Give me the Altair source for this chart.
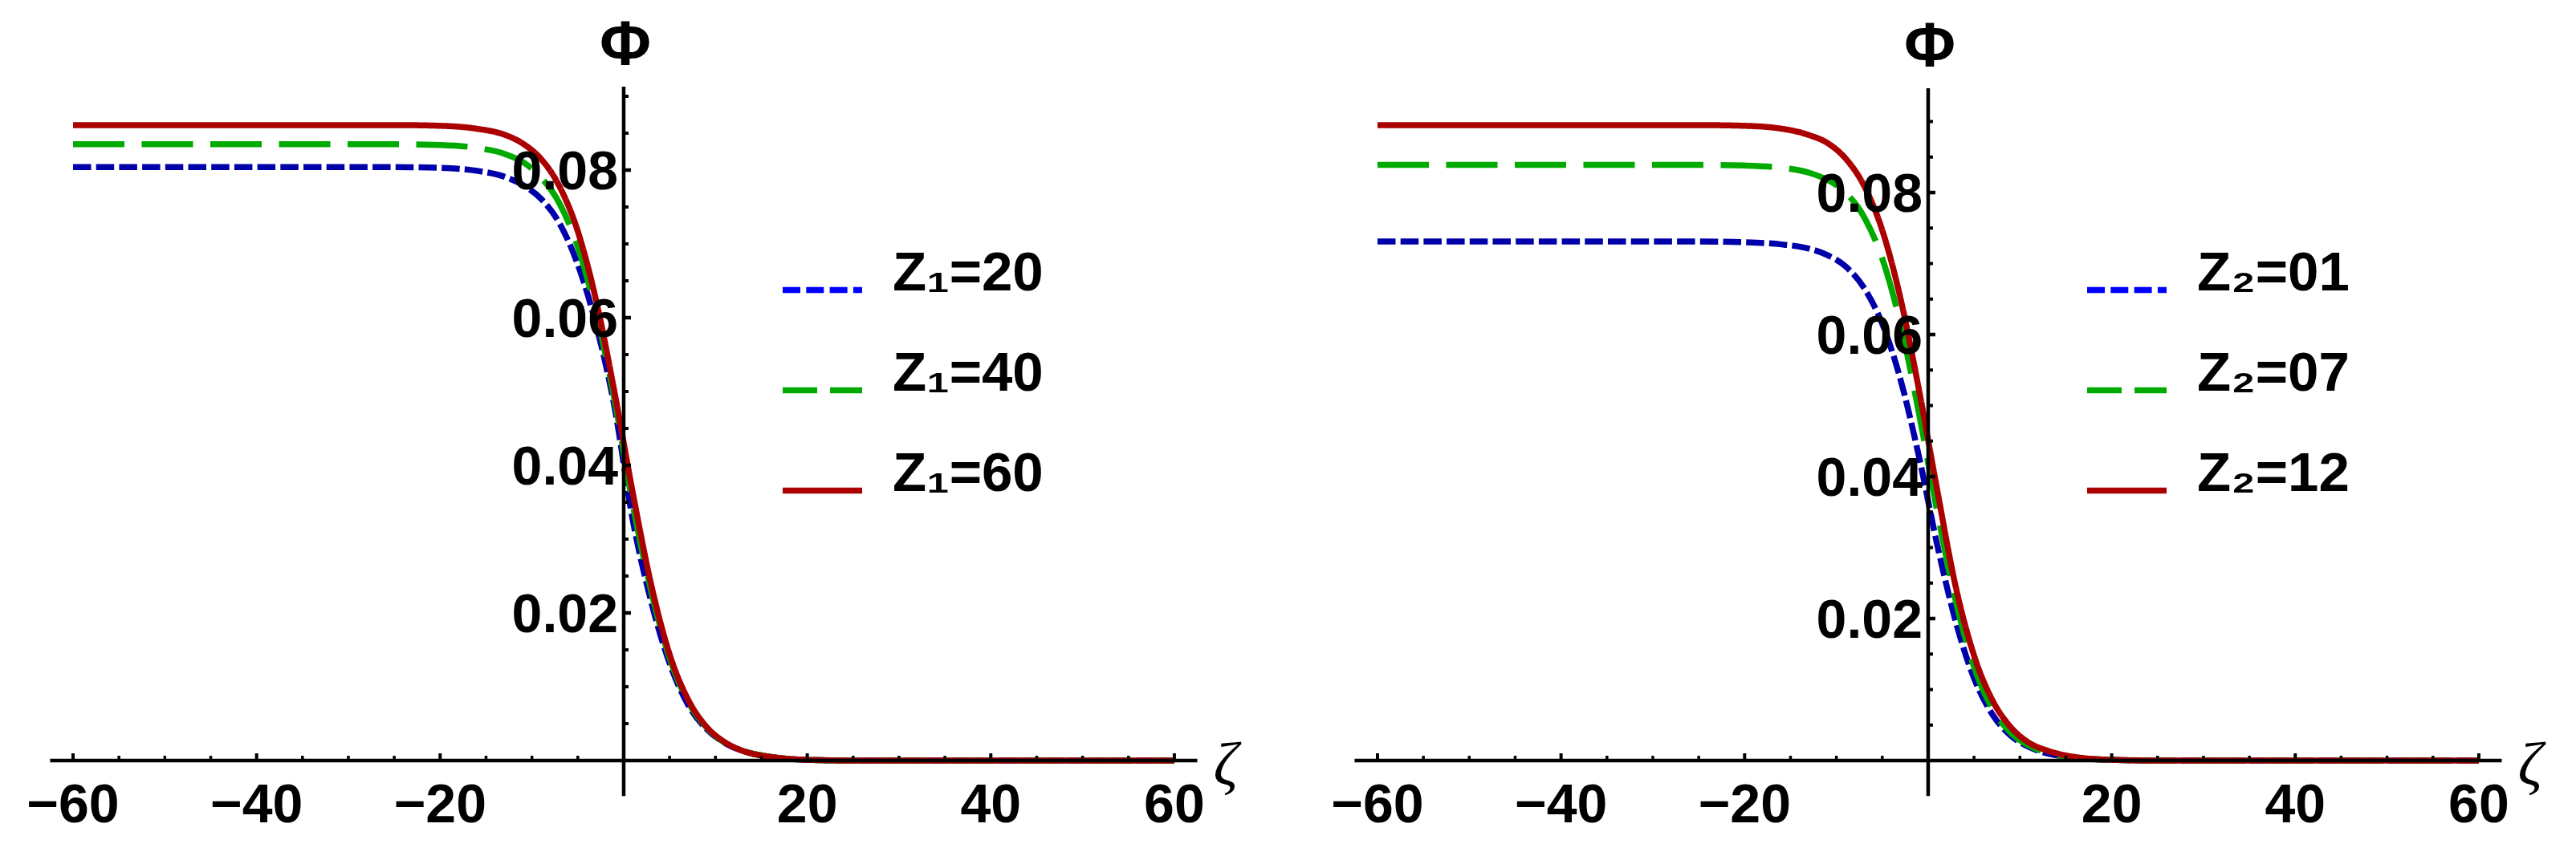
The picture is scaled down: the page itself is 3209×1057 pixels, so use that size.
import altair as alt
import pandas as pd

# ---------------- data ----------------
zeta = [-60, -40, -30, -25, -20, -16, -13, -11, -9, -7, -5, -3, -1,
        1, 3, 5, 7, 9, 11, 13, 16, 20, 25, 30, 40, 60]

left_labels = ["Z₁=20", "Z₁=40", "Z₁=60"]
left_z20 = [0.0804, 0.0804, 0.0804, 0.0804, 0.0803, 0.0799, 0.0791, 0.0780, 0.0761, 0.0728, 0.0672, 0.0590, 0.0479,
            0.0325, 0.0215, 0.0132, 0.0076, 0.0043, 0.0024, 0.0013, 0.0005, 0.0001, 0.0, 0.0, 0.0, 0.0]
left_z40 = [0.0835, 0.0835, 0.0835, 0.0835, 0.0834, 0.0830, 0.0822, 0.0811, 0.0790, 0.0755, 0.0696, 0.0606, 0.0489,
            0.0346, 0.0229, 0.0139, 0.0080, 0.0045, 0.0024, 0.0013, 0.0005, 0.0001, 0.0, 0.0, 0.0, 0.0]
left_z60 = [0.0861, 0.0861, 0.0861, 0.0861, 0.0860, 0.0856, 0.0848, 0.0836, 0.0815, 0.0778, 0.0717, 0.0623, 0.0499,
            0.0362, 0.0238, 0.0144, 0.0083, 0.0046, 0.0025, 0.0013, 0.0005, 0.0001, 0.0, 0.0, 0.0, 0.0]

right_labels = ["Z₂=01", "Z₂=07", "Z₂=12"]
right_z01 = [0.0731, 0.0731, 0.0731, 0.0731, 0.0730, 0.0727, 0.0721, 0.0712, 0.0696, 0.0666, 0.0615, 0.0536, 0.0428,
             0.0303, 0.0196, 0.0116, 0.0065, 0.0035, 0.0019, 0.0010, 0.0004, 0.0001, 0.0, 0.0, 0.0, 0.0]
right_z07 = [0.0839, 0.0839, 0.0839, 0.0839, 0.0838, 0.0835, 0.0828, 0.0818, 0.0800, 0.0766, 0.0707, 0.0614, 0.0489,
             0.0350, 0.0225, 0.0132, 0.0073, 0.0039, 0.0021, 0.0011, 0.0004, 0.0001, 0.0, 0.0, 0.0, 0.0]
right_z12 = [0.0895, 0.0895, 0.0895, 0.0895, 0.0894, 0.0890, 0.0881, 0.0870, 0.0848, 0.0810, 0.0747, 0.0650, 0.0522,
             0.0380, 0.0245, 0.0148, 0.0085, 0.0047, 0.0025, 0.0014, 0.0005, 0.0001, 0.0, 0.0, 0.0, 0.0]

x_major = [-60, -40, -20, 20, 40, 60]
x_major_text = ["−60", "−40", "−20", "20", "40", "60"]
x_minor = [-55, -50, -45, -35, -30, -25, -15, -10, -5, 5, 10, 15, 25, 30, 35, 45, 50, 55]
y_major = [0.02, 0.04, 0.06, 0.08]
y_major_text = ["0.02", "0.04", "0.06", "0.08"]
y_minor = [0.005, 0.01, 0.015, 0.025, 0.03, 0.035, 0.045, 0.05, 0.055, 0.065, 0.07, 0.075, 0.085, 0.09]

x_axis_extent = [-62.5, 62.5]
left_y_axis_extent = [-0.0048, 0.0913]
right_y_axis_extent = [-0.0050, 0.0947]

curve_colors = ["#0000AA", "#00AA00", "#AA0000"]
legend_colors = ["#0000FF", "#00AA00", "#AA0000"]
curve_dashes = [[22.5, 6.2], [64, 21.5], [1, 0]]
legend_dashes = [[22, 7.3], [43, 16], [1, 0]]

FONT = "Liberation Sans"


def panel(labels, series, x_dom, y_dom, y_axis_extent, width, height):
    xs = alt.Scale(domain=x_dom, nice=False, zero=False)
    ys = alt.Scale(domain=y_dom, nice=False, zero=False)

    rows = []
    for lab, vals in zip(labels, series):
        for z, v in zip(zeta, vals):
            rows.append({"zeta": z, "phi": v, "series": lab})
    df = pd.DataFrame(rows)

    X = alt.X("zeta:Q", scale=xs, axis=None)
    Y = alt.Y("phi:Q", scale=ys, axis=None)

    lines = alt.Chart(df).mark_line(strokeWidth=7.5, interpolate="monotone").encode(
        x=X, y=Y,
        color=alt.Color("series:N", scale=alt.Scale(domain=labels, range=curve_colors), legend=None),
        strokeDash=alt.StrokeDash("series:N", scale=alt.Scale(domain=labels, range=curve_dashes), legend=None),
    )

    leg = alt.Legend(
        orient="none", legendX=963, legendY=300, title=None, direction="vertical",
        symbolType="stroke", symbolSize=9801, symbolStrokeWidth=7.5,
        labelFont=FONT, labelFontSize=69, labelFontWeight="bold", labelColor="black",
        labelOffset=34, labelLimit=600, rowPadding=54, padding=0, labelBaseline="alphabetic",
    )
    legend_layer = alt.Chart(df).transform_filter("false").mark_line(strokeWidth=7.5).encode(
        x=X, y=Y,
        color=alt.Color("series:N", scale=alt.Scale(domain=labels, range=legend_colors), legend=leg),
        strokeDash=alt.StrokeDash("series:N", scale=alt.Scale(domain=labels, range=legend_dashes), legend=leg),
    )

    xaxis = alt.Chart(pd.DataFrame({"a": [x_axis_extent[0]], "b": [x_axis_extent[1]], "y": [0.0]})).mark_rule(
        strokeWidth=4.5, color="black").encode(
        x=alt.X("a:Q", scale=xs, axis=None), x2="b:Q", y=alt.Y("y:Q", scale=ys, axis=None))
    yaxis = alt.Chart(pd.DataFrame({"x": [0.0], "a": [y_axis_extent[0]], "b": [y_axis_extent[1]]})).mark_rule(
        strokeWidth=4.5, color="black").encode(
        x=alt.X("x:Q", scale=xs, axis=None), y=alt.Y("a:Q", scale=ys, axis=None), y2="b:Q")

    xmaj = pd.DataFrame({"x": x_major, "y": [0.0] * len(x_major), "t": x_major_text})
    xmin = pd.DataFrame({"x": x_minor, "y": [0.0] * len(x_minor)})
    ymaj = pd.DataFrame({"x": [0.0] * len(y_major), "y": y_major, "t": y_major_text})
    ymin = pd.DataFrame({"x": [0.0] * len(y_minor), "y": y_minor})

    def XY(d):
        return dict(x=alt.X("x:Q", scale=xs, axis=None), y=alt.Y("y:Q", scale=ys, axis=None))

    xmaj_ticks = alt.Chart(xmaj).mark_tick(orient="vertical", size=9, thickness=4, yOffset=-4.5,
                                           color="black", opacity=1).encode(**XY(xmaj))
    xmin_ticks = alt.Chart(xmin).mark_tick(orient="vertical", size=6, thickness=3.5, yOffset=-3,
                                           color="black", opacity=1).encode(**XY(xmin))
    ymaj_ticks = alt.Chart(ymaj).mark_tick(orient="horizontal", size=9, thickness=4.5, xOffset=4.5,
                                           color="black", opacity=1).encode(**XY(ymaj))
    ymin_ticks = alt.Chart(ymin).mark_tick(orient="horizontal", size=6, thickness=4, xOffset=3,
                                           color="black", opacity=1).encode(**XY(ymin))

    xlab = alt.Chart(xmaj).mark_text(font=FONT, fontSize=68, fontWeight="bold", color="black",
                                     align="center", baseline="alphabetic", dy=77).encode(
        text="t:N", **XY(xmaj))
    ylab = alt.Chart(ymaj).mark_text(font=FONT, fontSize=68, fontWeight="bold", color="black",
                                     align="right", baseline="alphabetic", dx=-7, dy=24).encode(
        text="t:N", **XY(ymaj))

    phi_df = pd.DataFrame({"x": [0.0], "y": [y_axis_extent[1]], "t": ["Φ"]})
    phi_lab = alt.Chart(phi_df).mark_text(font=FONT, fontSize=78, fontWeight="bold", color="black",
                                          align="center", baseline="alphabetic", dx=2, dy=-27).encode(
        text="t:N", **XY(phi_df))
    zeta_df = pd.DataFrame({"x": [x_axis_extent[1]], "y": [0.0], "t": ["ζ"]})
    zeta_lab = alt.Chart(zeta_df).mark_text(font="Liberation Serif", fontSize=76, fontStyle="italic",
                                            color="black", align="left", baseline="alphabetic",
                                            dx=20, dy=30).encode(text="t:N", **XY(zeta_df))

    return alt.layer(
        lines, legend_layer, xaxis, yaxis, xmaj_ticks, xmin_ticks, ymaj_ticks, ymin_ticks,
        xlab, ylab, phi_lab, zeta_lab,
    ).resolve_scale(color="independent", strokeDash="independent").properties(width=width, height=height)


left = panel(left_labels, [left_z20, left_z40, left_z60],
             [-67.26, 69.89], [-0.0097826, 0.1021739], left_y_axis_extent, 1568, 1030)
right = panel(right_labels, [right_z01, right_z07, right_z12],
              [-67.26, 69.19], [-0.0101695, 0.1062147], right_y_axis_extent, 1560, 1030)

chart = alt.hconcat(left, right, spacing=57, bounds="flush", padding=0).resolve_scale(
    x="independent", y="independent", color="independent", strokeDash="independent"
).configure(background="white").configure_view(stroke=None, strokeWidth=0)

chart.save("out.html", embed_options={"renderer": "svg", "actions": False})
